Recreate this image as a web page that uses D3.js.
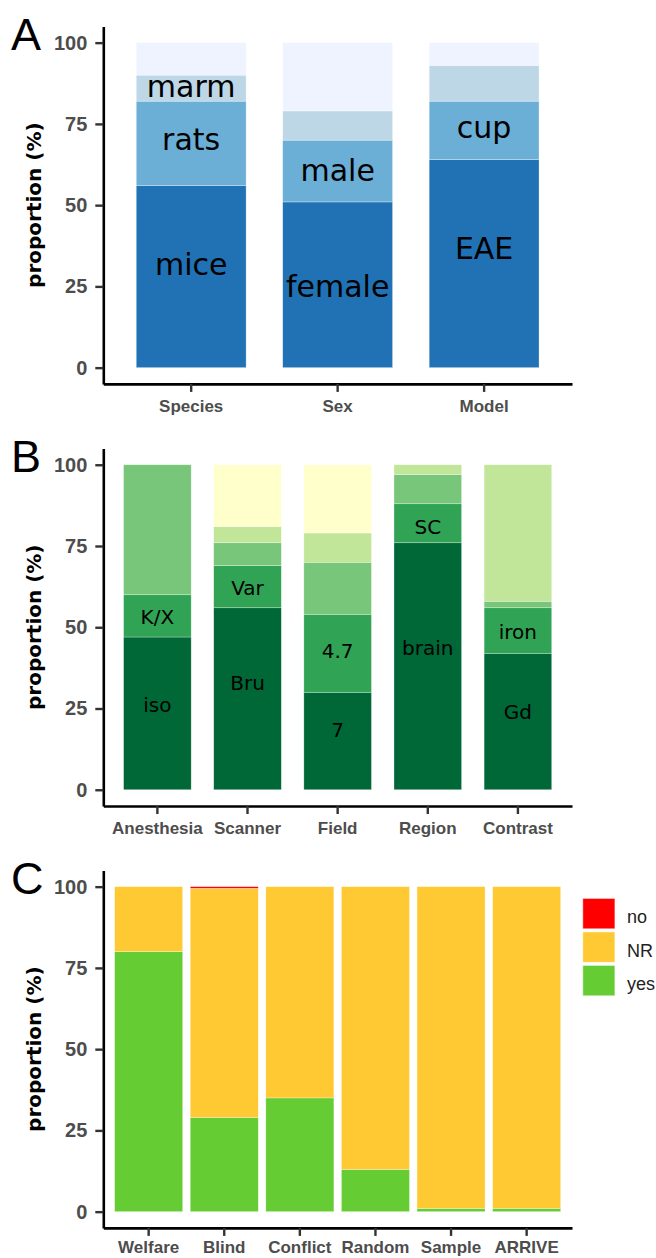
<!DOCTYPE html>
<html>
<head>
<meta charset="utf-8">
<script src="https://cdn.jsdelivr.net/npm/d3@7"></script>
<style>
body { margin: 0; background: #fff; }
</style>
</head>
<body>
<svg id="fig" width="656" height="1258"></svg>
<script>
// panel A: study design
var catsA = ["Species", "Sex", "Model"]
var valuesA = [[56, 26, 8, 10], [51, 19, 9, 21], [64, 18, 11, 7]]
var labelTextA = ["mice", "rats", "marm", "female", "male", "EAE", "cup"]
var labelCatA = ["Species", "Species", "Species", "Sex", "Sex", "Model", "Model"]
var labelPosA = [28.5, 67, 83.2, 21.8, 57.4, 33.4, 70.6]

// panel B: MRI setup
var catsB = ["Anesthesia", "Scanner", "Field", "Region", "Contrast"]
var valuesB = [[47, 13, 40, 0, 0], [56, 13, 7, 5, 19], [30, 24, 16, 9, 21], [76, 12, 9, 3, 0], [42, 14, 2, 42, 0]]
var labelTextB = ["iso", "K/X", "Bru", "Var", "7", "4.7", "brain", "SC", "Gd", "iron"]
var labelCatB = ["Anesthesia", "Anesthesia", "Scanner", "Scanner", "Field", "Field", "Region", "Region", "Contrast", "Contrast"]
var labelPosB = [23.9, 50.9, 30.6, 59.8, 16.2, 40.5, 41.5, 78.8, 21.8, 46.5]

// panel C: reporting (yes / NR / no)
var catsC = ["Welfare", "Blind", "Conflict", "Random", "Sample", "ARRIVE"]
var levelsC = ["yes", "NR", "no"]
var valuesC = [[80, 20, 0], [29, 70.5, 0.5], [35, 65, 0], [13, 87, 0], [1, 99, 0], [1, 99, 0]]

var yTicks = [0, 25, 50, 75, 100]

var svg = d3.select("#fig")
var left = 103.3, right = 572, panelH = 357.5

function panel(o) {
    var g = svg.append("g")
    var x = d3.scaleBand().domain(o.cats).range([left, right]).paddingInner(0).paddingOuter(0.1)
    var y = d3.scaleLinear().domain([-5, 105]).range([o.top + panelH, o.top])
    var keys = d3.range(o.values[0].length)
    var rows = o.values.map(function(v, i) {
        var r = {cat: o.cats[i]}
        v.forEach(function(d, j) { r[j] = d })
        return r
    })
    var series = d3.stack().keys(keys)(rows)
    var bw = x.step() * o.barWidth

    g.selectAll("g.layer").data(series).join("g")
        .attr("class", "layer")
        .attr("fill", function(s) { return o.colors[s.key] })
        .selectAll("rect")
        .data(function(s) { return s.filter(function(d) { return d[1] > d[0] }) })
        .join("rect")
        .attr("x", function(d) { return x(d.data.cat) + (x.bandwidth() - bw) / 2 })
        .attr("y", function(d) { return y(d[1]) })
        .attr("width", bw)
        .attr("height", function(d) { return y(d[0]) - y(d[1]) })
        .attr("stroke", "#fff")
        .attr("stroke-width", 0.6)
        .attr("stroke-opacity", 0.5)

    if (o.labelText) {
        g.selectAll("text.lab").data(d3.range(o.labelText.length)).join("text")
            .attr("class", "lab")
            .attr("x", function(i) { return x(o.labelCat[i]) + x.bandwidth() / 2 })
            .attr("y", function(i) { return y(o.labelPos[i]) })
            .attr("text-anchor", "middle")
            .attr("font-family", "DejaVu Sans")
            .attr("font-size", o.labelSize)
            .attr("fill", "#000")
            .text(function(i) { return o.labelText[i] })
    }

    var ya = g.append("g").attr("transform", "translate(" + left + ",0)")
        .call(d3.axisLeft(y).tickValues(yTicks).tickSize(8).tickPadding(8).tickSizeOuter(0))
    var xa = g.append("g").attr("transform", "translate(0," + (o.top + panelH) + ")")
        .call(d3.axisBottom(x).tickSize(8).tickPadding(o.xPad || 8).tickSizeOuter(0))
    ;[ya, xa].forEach(function(a) {
        a.select(".domain").attr("stroke", "#000").attr("stroke-width", 2.6)
        a.selectAll(".tick line").attr("stroke", "#333").attr("stroke-width", 2.4)
        a.selectAll(".tick text")
            .attr("fill", "#4d4d4d")
            .attr("font-family", "Liberation Sans, Arial, sans-serif")
            .attr("font-weight", "bold")
    })
    ya.selectAll(".tick text").attr("font-size", 20)
    xa.selectAll(".tick text").attr("font-size", 17)

    g.append("text")
        .attr("transform", "translate(40.7," + (o.top + panelH / 2) + ") rotate(-90)")
        .attr("text-anchor", "middle")
        .attr("font-family", "DejaVu Sans")
        .attr("font-weight", "bold")
        .attr("font-size", 20)
        .text("proportion (%)")

    g.append("text").attr("x", 11).attr("y", o.top + 23.5)
        .attr("font-family", "Liberation Sans, Arial, sans-serif")
        .attr("font-size", 45)
        .text(o.letter)

    return g
}

panel({letter: "A", top: 26.4, cats: catsA, values: valuesA, barWidth: 0.75,
    colors: ["#2171b5", "#6baed6", "#bdd7e7", "#eff3ff"],
    labelText: labelTextA, labelCat: labelCatA, labelPos: labelPosA, labelSize: 30})

panel({letter: "B", top: 448.5, cats: catsB, values: valuesB, barWidth: 0.75,
    colors: ["#006837", "#31a354", "#78c679", "#c2e699", "#ffffcc"],
    labelText: labelTextB, labelCat: labelCatB, labelPos: labelPosB, labelSize: 20})

var colorsC = ["#66cc33", "#ffc933", "#ff0000"]
// bottom labels sit at the page edge, so a little less padding keeps them in
var gc = panel({letter: "C", top: 870.4, cats: catsC, values: valuesC, barWidth: 0.9, colors: colorsC, xPad: 5})

// legend, top entry is "no"
var legOrder = [2, 1, 0]
var leg = gc.append("g").attr("transform", "translate(582.7,898.3)")
var item = leg.selectAll("g").data(legOrder).join("g")
    .attr("transform", function(k, i) { return "translate(0," + (i * 33.5) + ")" })
item.append("rect")
    .attr("width", 32.3).attr("height", 30.6)
    .attr("fill", function(k) { return colorsC[k] })
    .attr("stroke", "#fff").attr("stroke-opacity", 0.7)
item.append("text")
    .attr("x", 44.3).attr("y", 15.3 + 9.5)
    .attr("font-family", "Liberation Sans, Arial, sans-serif")
    .attr("font-size", 18)
    .attr("fill", "#222")
    .text(function(k) { return levelsC[k] })
</script>
</body>
</html>
